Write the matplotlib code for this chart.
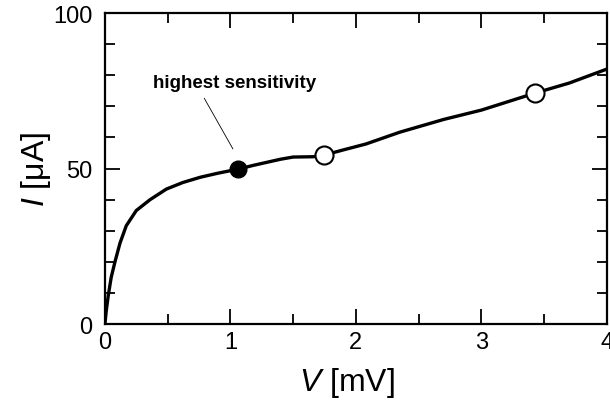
import matplotlib.pyplot as plt
from matplotlib.ticker import MultipleLocator

# I-V curve
v = [0.0, 0.01, 0.026, 0.05, 0.08, 0.12, 0.17, 0.25, 0.36, 0.49, 0.62, 0.76, 0.9,
     1.06, 1.18, 1.29, 1.40, 1.50, 1.66, 1.745, 1.9, 2.08, 2.35, 2.7, 3.0, 3.43, 3.7, 4.0]
i = [0.0, 4.0, 9.0, 15.0, 20.0, 26.0, 31.6, 36.5, 40.0, 43.4, 45.5, 47.2, 48.5,
     49.8, 51.0, 52.0, 53.0, 53.7, 53.8, 54.3, 56.0, 57.9, 61.7, 65.8, 68.8, 74.3, 77.5, 82.0]

# markers
v_best, i_best = [1.06], [49.8]
v_open = [1.745, 3.43]
i_open = [54.3, 74.3]

plt.rcParams['font.family'] = ['Liberation Sans', 'DejaVu Sans']
plt.rcParams['mathtext.fontset'] = 'custom'
plt.rcParams['mathtext.it'] = 'Liberation Sans:italic'
plt.rcParams['mathtext.rm'] = 'Liberation Sans'

fig = plt.figure(figsize=(6.1, 4.02), dpi=100)
ax = fig.add_axes([0.172, 0.1915, 0.823, 0.7735])

ax.plot(v, i, color='black', linewidth=2.4, solid_joinstyle='round')
ax.plot(v_best, i_best, 'o', color='black', markersize=12)
ax.plot(v_open, i_open, 'o', markerfacecolor='white', markeredgecolor='black',
        markersize=13, markeredgewidth=1.5)

# annotation with thin leader line
ax.annotate('highest sensitivity', xy=(1.02, 56.3), xytext=(0.38, 77.8),
            fontsize=13.5, fontweight='bold', ha='left', va='center',
            arrowprops=dict(arrowstyle='-', color='black', linewidth=0.6,
                            shrinkA=4, shrinkB=0, relpos=(0.29, 0.0)))

ax.set_xlim(0, 4)
ax.set_ylim(0, 100)
ax.xaxis.set_major_locator(MultipleLocator(1))
ax.xaxis.set_minor_locator(MultipleLocator(0.5))
ax.yaxis.set_major_locator(MultipleLocator(50))
ax.yaxis.set_minor_locator(MultipleLocator(10))
ax.tick_params(which='both', direction='in', top=True, right=True, width=1.3,
               labelsize=17)
ax.tick_params(axis='x', pad=5)
ax.tick_params(axis='y', pad=9)
ax.tick_params(which='major', length=11)
ax.tick_params(which='minor', length=7)
for s in ax.spines.values():
    s.set_linewidth(1.6)

ax.set_xlabel(r'$\mathit{V}$ [mV]', fontsize=23, labelpad=9)
ax.xaxis.label.set_x(0.482)
ax.set_ylabel(r'$\mathit{I}$ [$\mathrm{\mu}$A]', fontsize=23, labelpad=0)

plt.savefig('out.png', dpi=100)
